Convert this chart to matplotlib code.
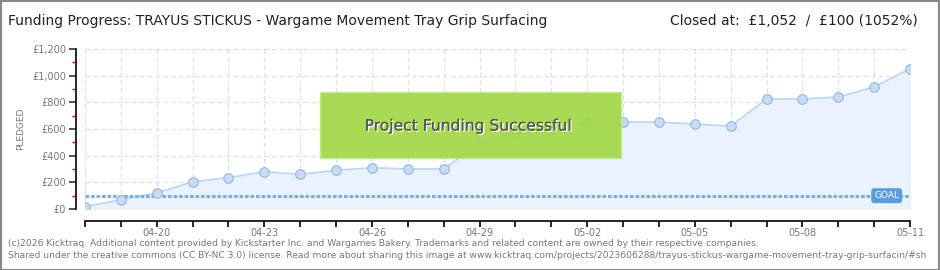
import numpy as np
import matplotlib.pyplot as plt
from matplotlib.patches import Rectangle
import matplotlib.patheffects as pe

# daily pledged totals (GBP), 04-18 .. 05-11
days = ['04-18', '04-19', '04-20', '04-21', '04-22', '04-23', '04-24', '04-25',
        '04-26', '04-27', '04-28', '04-29', '04-30', '05-01', '05-02', '05-03',
        '05-04', '05-05', '05-06', '05-07', '05-08', '05-09', '05-10', '05-11']
pledged = [18, 70, 120, 205, 235, 280, 260, 290, 310, 300, 300, 495,
           570, 630, 645, 652, 652, 637, 622, 825, 825, 840, 915, 1052]
goal = 100
yticks = [0, 200, 400, 600, 800, 1000, 1200]
ytick_labels = ['£0', '£200', '£400', '£600', '£800', '£1,000', '£1,200']

W, H = 940, 270
PX = 72 / 100  # points per pixel
fig = plt.figure(figsize=(W / 100, H / 100), dpi=100)
fig.patch.set_facecolor('white')

# outer frame
fig.add_artist(Rectangle((0.5 / W, 0.5 / H), 1 - 1.5 / W, 1 - 1.5 / H,
                         transform=fig.transFigure, fill=False,
                         edgecolor='#888888', linewidth=1.5))

ax = fig.add_axes([85 / W, (H - 209) / H, 825 / W, 160 / H])
x = np.arange(len(days))

ax.fill_between(x, pledged, 0, color='#eaf3fd', zorder=1)
ax.plot(x, pledged, color='#b9d6f5', linewidth=1.2, zorder=2)
ax.scatter(x, pledged, s=48, facecolor='#c4dcf7', edgecolor='#9fb6cf',
           linewidth=0.8, zorder=3)

ax.axhline(goal, color='#7aaee4', linestyle=(0, (1.2, 0.6)), linewidth=2.2,
           zorder=2)
ax.text(22.35, goal, 'GOAL', color='white', fontsize=6.5,
        ha='center', va='center', zorder=5,
        bbox=dict(boxstyle='round,pad=0.25', fc='#5b9de0', ec='#5b9de0'))

ax.set_xlim(0, len(days) - 1)
ax.set_ylim(0, 1200)
ax.set_yticks(yticks)
ax.set_yticklabels(ytick_labels)
ax.set_yticks(np.arange(100, 1200, 200), minor=True)
ax.tick_params(axis='y', which='minor', length=3, color='red', width=1)
ax.tick_params(axis='y', which='major', length=5 * PX * 1.4, width=1.2,
               colors='#333333', labelcolor='#777777', labelsize=7, pad=2)
ax.set_xticks(x)
ax.set_xticklabels([d if i % 3 == 2 else '' for i, d in enumerate(days)])
ax.tick_params(axis='x', length=4, width=1.2, direction='out',
               labelcolor='#777777', labelsize=7, pad=1)

ax.grid(True, color='#dddddd', linestyle=(0, (4, 3)), linewidth=0.8)
ax.set_axisbelow(True)
for s in ['top', 'right']:
    ax.spines[s].set_visible(False)
ax.spines['left'].set_position(('outward', 9 * PX))
ax.spines['bottom'].set_position(('outward', 12 * PX))
ax.spines['left'].set_linewidth(1.2)
ax.spines['bottom'].set_linewidth(1.2)
ax.set_ylabel('PLEDGED', color='#777777', fontsize=6.5, labelpad=4)
ax.yaxis.set_label_coords(-60 / 825, 0.5)

# success banner
fig.add_artist(Rectangle((320 / W, (H - 158) / H), 301 / W, 66 / H,
                         transform=fig.transFigure, facecolor='#a3d94a',
                         edgecolor='#c6e88f', linewidth=1, alpha=0.95,
                         zorder=10))
fig.text(468 / W, (H - 126) / H, 'Project Funding Successful',
         ha='center', va='center', fontsize=11.2, color='#555555', zorder=11,
         path_effects=[pe.withSimplePatchShadow(offset=(1, -1),
                                                shadow_rgbFace='white',
                                                alpha=1), pe.Normal()])

fig.text(8 / W, (H - 21) / H,
         'Funding Progress: TRAYUS STICKUS - Wargame Movement Tray Grip Surfacing',
         fontsize=10, color='#222222', va='center', ha='left')
fig.text(918 / W, (H - 21) / H, 'Closed at:  £1,052  /  £100 (1052%)',
         fontsize=10, color='#222222', va='center', ha='right')

fig.text(8 / W, (H - 243) / H,
         '(c)2026 Kicktraq. Additional content provided by Kickstarter Inc. and '
         'Wargames Bakery. Trademarks and related content are owned by their '
         'respective companies.', fontsize=6.6, color='#777777', va='center')
fig.text(8 / W, (H - 256) / H,
         'Shared under the creative commons (CC BY-NC 3.0) license. Read more '
         'about sharing this image at www.kicktraq.com/projects/2023606288/'
         'trayus-stickus-wargame-movement-tray-grip-surfacin/#sh',
         fontsize=6.6, color='#777777', va='center')

fig.savefig('out.png', dpi=100)
